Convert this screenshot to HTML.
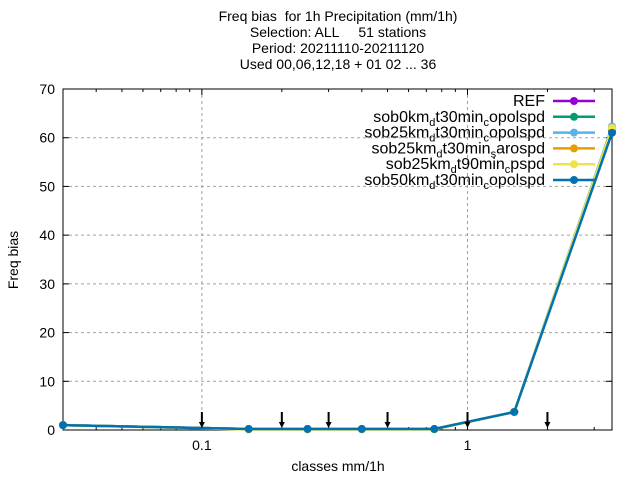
<!DOCTYPE html>
<html><head><meta charset="utf-8"><style>
body{margin:0;background:#fff;}
svg{font-family:"Liberation Sans",sans-serif;}
text{white-space:pre;}
</style></head><body>
<svg id="chart" width="640" height="480" xmlns="http://www.w3.org/2000/svg">
<g font-size="14" text-anchor="middle" fill="#000">
<text x="338" y="21" xml:space="preserve">Freq bias  for 1h Precipitation (mm/1h)</text>
<text x="338" y="37" xml:space="preserve">Selection: ALL     51 stations</text>
<text x="338" y="53">Period: 20211110-20211120</text>
<text x="338" y="69">Used 00,06,12,18 + 01 02 ... 36</text>
</g>
<g id="grid"></g>
<g id="axes"></g>
<g id="series"></g>
<g id="arrows"></g>
<g id="legend"></g>
<text x="18" y="260" font-size="14" text-anchor="middle" transform="rotate(-90 18 260)">Freq bias</text>
<text x="338" y="471" font-size="14" text-anchor="middle">classes mm/1h</text>
</svg>
<script>
const classes=[0.03,0.15,0.25,0.4,0.75,1.5,3.5];
const seriesNames=["REF","sob0km_d_t30min_c_opolspd","sob25km_d_t30min_c_opolspd","sob25km_d_t30min_s_arospd","sob25km_d_t90min_c_pspd","sob50km_d_t30min_c_opolspd"];
const seriesColors=["#9400d3","#009e73","#56b4e9","#e69f00","#f0e442","#0072b2"];
const valsREF=[1.0,0.2,0.2,0.2,0.2,3.7,61.5];
const valsS0=[1.0,0.2,0.2,0.2,0.2,3.7,62.0];
const valsS25=[1.0,0.2,0.2,0.2,0.2,3.7,62.3];
const valsS25s=[1.0,0.2,0.2,0.2,0.2,3.7,61.8];
const valsS25p=[1.0,0.1,0.1,0.1,0.1,3.7,62.0];
const valsS50=[1.0,0.2,0.2,0.2,0.2,3.7,61.0];
const allVals=[valsREF,valsS0,valsS25,valsS25s,valsS25p,valsS50];
const yTicks=[0,10,20,30,40,50,60,70];
const xTicks=[0.1,1];
const xTickLabels=["0.1","1"];
const arrowsAt=[0.1,0.2,0.3,0.5,1,2];
const L=63,R=612,T=89,B=430,XMIN=0.03,XMAX=3.5,YMIN=0,YMAX=70;
const NS="http://www.w3.org/2000/svg";
const xs=v=>L+(Math.log10(v)-Math.log10(XMIN))/(Math.log10(XMAX)-Math.log10(XMIN))*(R-L);
const ys=v=>B-(v-YMIN)/(YMAX-YMIN)*(B-T);
function mk(tag,attrs,parent){const e=document.createElementNS(NS,tag);for(const k in attrs)e.setAttribute(k,attrs[k]);document.getElementById(parent).appendChild(e);return e;}
yTicks.forEach(t=>{
 if(t>YMIN&&t<YMAX){const g=mk('line',{x1:L,x2:R,y1:ys(t),y2:ys(t),stroke:'#a0a0a0','stroke-dasharray':'3,3'},'grid');
 
 }
 const tk=mk('line',{x1:L,x2:L+6,y1:ys(t),y2:ys(t),stroke:'#000'},'axes');
 
 
 mk('line',{x1:R,x2:R-6,y1:ys(t),y2:ys(t),stroke:'#000'},'axes');
 const lb=mk('text',{x:L-8,y:ys(t)+5,'font-size':14,'text-anchor':'end'},'axes');
 lb.textContent=t;
 
 
});
xTicks.forEach((t,i)=>{
 const g=mk('line',{x1:xs(t),x2:xs(t),y1:T,y2:B,stroke:'#a0a0a0','stroke-dasharray':'3,3'},'grid');
 
 
 mk('line',{x1:xs(t),x2:xs(t),y1:B,y2:B-6,stroke:'#000'},'axes');
 mk('line',{x1:xs(t),x2:xs(t),y1:T,y2:T+6,stroke:'#000'},'axes');
 const lb=mk('text',{x:xs(t),y:B+20,'font-size':14,'text-anchor':'middle'},'axes');
 lb.textContent=xTickLabels[i];
 
 
});
[0.04,0.05,0.06,0.07,0.08,0.09,0.2,0.3,0.4,0.5,0.6,0.7,0.8,0.9,2,3].forEach(t=>{
 mk('line',{x1:xs(t),x2:xs(t),y1:B,y2:B-3,stroke:'#000'},'axes');
 mk('line',{x1:xs(t),x2:xs(t),y1:T,y2:T+3,stroke:'#000'},'axes');
});
const fr=mk('rect',{x:L,y:T,width:R-L,height:B-T,fill:'none',stroke:'#000'},'axes');


allVals.forEach((vals,si)=>{
 const pts=classes.map((c,i)=>xs(c)+','+ys(vals[i])).join(' ');
 const pl=mk('polyline',{points:pts,fill:'none',stroke:seriesColors[si],'stroke-width':2.5},'series');
 
 
 classes.forEach((c,i)=>{
  const p=mk('circle',{cx:xs(c),cy:ys(vals[i]),r:4,fill:seriesColors[si]},'series');
  
  
 });
});
arrowsAt.forEach(a=>{
 const x=xs(a);
 const l=mk('line',{x1:x,x2:x,y1:412,y2:424,stroke:'#000','stroke-width':2},'arrows');
 
 
 mk('polygon',{points:`${x-3},${422} ${x+3},${422} ${x},${428}`,fill:'#000'},'arrows');
});
const sb=s=>`<tspan dy="4" font-size="11">${s}</tspan><tspan dy="-4">`;
const legLabels=['REF',
 'sob0km'+sb('d')+'t30min</tspan>'+sb('c')+'opolspd</tspan>',
 'sob25km'+sb('d')+'t30min</tspan>'+sb('c')+'opolspd</tspan>',
 'sob25km'+sb('d')+'t30min</tspan>'+sb('s')+'arospd</tspan>',
 'sob25km'+sb('d')+'t90min</tspan>'+sb('c')+'pspd</tspan>',
 'sob50km'+sb('d')+'t30min</tspan>'+sb('c')+'opolspd</tspan>'];
seriesNames.forEach((n,i)=>{
 const y=101+i*15.8;
 const t=mk('text',{x:545,y:y+5,'font-size':16,'text-anchor':'end'},'legend');
 t.innerHTML=legLabels[i];
 
 
 const l=mk('line',{x1:553,x2:595,y1:y,y2:y,stroke:seriesColors[i],'stroke-width':2.5},'legend');
 
 
 mk('circle',{cx:574,cy:y,r:4,fill:seriesColors[i]},'legend');
});
</script>
</body></html>
